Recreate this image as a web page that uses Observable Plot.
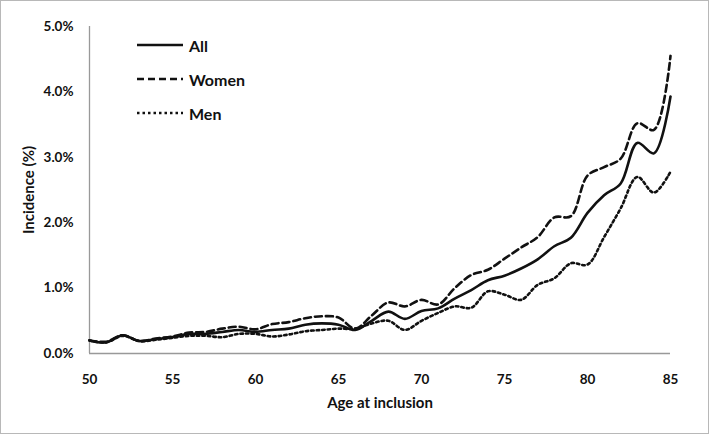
<!DOCTYPE html>
<html>
<head>
<meta charset="utf-8">
<script src="https://cdn.jsdelivr.net/npm/d3@7"></script>
<script src="https://cdn.jsdelivr.net/npm/@observablehq/plot@0.6"></script>
<style>
  body { margin: 0; background: #fff; font-family: Lato, "Open Sans", sans-serif; }
  #wrap { position: relative; width: 709px; height: 434px; }
  #wrap svg.plot { display: block; outline: 1px solid #b8b8b8; outline-offset: -1px; }
  #wrap svg.plot [aria-label="x-axis label"], #wrap svg.plot [aria-label="y-axis label"] { font-size: 15px; }
  #legend { position: absolute; left: 137px; top: 28px; }
  .item { display: flex; align-items: center; height: 34px; font-weight: 700; font-size: 16px; color: #111; }
  .item svg { margin-right: 6px; }
</style>
</head>
<body>
<div id="wrap"><div id="legend"></div></div>
<script>
const ages = [50,51,52,53,54,55,56,57,58,59,60,61,62,63,64,65,66,67,68,69,70,71,72,73,74,75,76,77,78,79,80,81,82,83,84,85];
const allValues = [0.20,0.17,0.28,0.19,0.22,0.25,0.30,0.30,0.33,0.36,0.33,0.36,0.38,0.44,0.46,0.44,0.36,0.50,0.64,0.53,0.65,0.69,0.84,0.97,1.12,1.19,1.30,1.44,1.64,1.77,2.15,2.42,2.60,3.22,3.06,3.93];
const womenValues = [0.20,0.18,0.28,0.19,0.23,0.26,0.32,0.33,0.38,0.41,0.37,0.45,0.48,0.54,0.57,0.55,0.38,0.58,0.78,0.72,0.82,0.75,1.00,1.20,1.28,1.45,1.62,1.78,2.08,2.10,2.72,2.85,2.98,3.52,3.42,4.55];
const menValues = [0.20,0.17,0.27,0.19,0.21,0.24,0.27,0.27,0.25,0.30,0.30,0.26,0.29,0.34,0.36,0.38,0.38,0.46,0.50,0.36,0.50,0.62,0.72,0.70,0.95,0.90,0.82,1.05,1.15,1.38,1.36,1.78,2.22,2.70,2.46,2.78];
const seriesNames = ["All", "Women", "Men"];
const xTicks = [50,55,60,65,70,75,80,85];
const yTicks = [0,1,2,3,4,5];

const dashes = {All: null, Women: "7,4", Men: "2.5,3"};
const valuesBy = {All: allValues, Women: womenValues, Men: menValues};
const table = seriesNames.flatMap(s => ages.map((a, i) => ({series: s, age: a, value: valuesBy[s][i]})));

const lineMarks = seriesNames.map(s => Plot.line(table.filter(d => d.series === s), {
  x: "age", y: "value", stroke: "#111", strokeWidth: 2.6,
  strokeDasharray: dashes[s], curve: "catmull-rom"
}));

const chart = Plot.plot({
  width: 709, height: 434,
  marginLeft: 89, marginRight: 39, marginTop: 26, marginBottom: 81,
  style: {fontFamily: "Lato, 'Open Sans', sans-serif", fontSize: "13.5px", fontWeight: 700, color: "#111", background: "#fff"},
  x: {domain: [50, 85], ticks: xTicks, tickSize: 0, tickPadding: 21, label: "Age at inclusion", labelArrow: "none", labelAnchor: "center", labelOffset: 54},
  y: {domain: [0, 5], ticks: yTicks, tickSize: 0, tickPadding: 16, tickFormat: d => d.toFixed(1) + "%", label: "Incidence (%)", labelArrow: "none", labelAnchor: "center", labelOffset: 66},
  marks: [
    Plot.ruleX([50], {stroke: "#999", strokeWidth: 1.3}),
    Plot.ruleY([0], {stroke: "#999", strokeWidth: 1.3}),
    ...lineMarks
  ]
});
chart.classList.add("plot");
const wrap = document.getElementById("wrap");
wrap.insertBefore(chart, wrap.firstChild);

const legend = document.getElementById("legend");
for (const s of seriesNames) {
  const div = document.createElement("div");
  div.className = "item";
  div.innerHTML = `<svg width="46" height="6"><line x1="0" x2="46" y1="3" y2="3" stroke="#111" stroke-width="2.6" ${dashes[s] ? `stroke-dasharray="${dashes[s]}"` : ""}/></svg><span>${s}</span>`;
  legend.appendChild(div);
}
</script>
</body>
</html>
